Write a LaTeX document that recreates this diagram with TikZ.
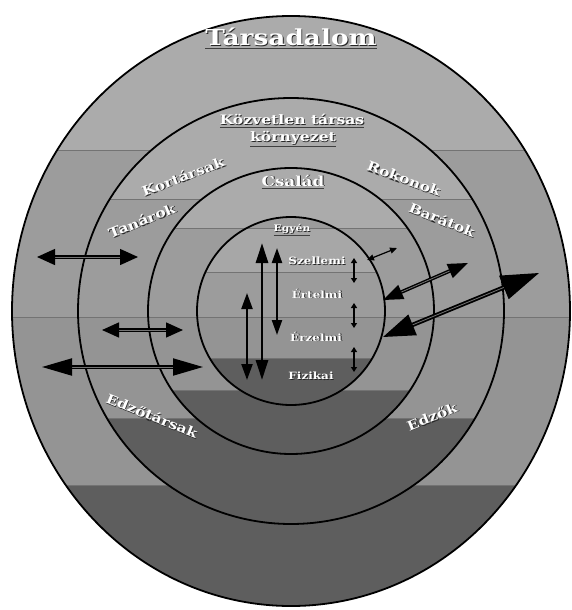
\documentclass[tikz,border=0pt]{standalone}
\usepackage{fontspec}
\setmainfont{DejaVu Serif}
\usepackage{graphicx}
\usetikzlibrary{arrows.meta}

\definecolor{bandlight}{gray}{0.67}
\definecolor{bandmid}{gray}{0.61}
\definecolor{bandlow}{gray}{0.58}
\definecolor{banddark}{gray}{0.37}

% white text with a dark shadow, a little wide
\newcommand{\emb}[1]{\scalebox{1.2}[1]{\makebox[0pt][l]{\kern0.8pt\raisebox{-0.8pt}{\color{black!85}#1}}{\color{white}#1}}}
\newcommand{\ttl}[1]{{\color{black!75}\underline{\emb{#1}}}}

\begin{document}
\begin{tikzpicture}[x=1pt,y=-1pt,
	ring/.style={draw=black, line width=1.8pt},
	band/.style={draw=black!55, line width=0.5pt},
	lbl/.style={inner sep=0pt, font=\bfseries\fontsize{13}{14}\selectfont},
	dimlbl/.style={inner sep=0pt, font=\bfseries\fontsize{10}{11}\selectfont},
	hlink/.style={line width=1.4pt, double=black!55, double distance=0.8pt},
	vlink/.style={line width=2.2pt},
	tick/.style={line width=1.3pt, {Triangle[length=5pt,width=6pt]}-{Triangle[length=5pt,width=6pt]}}]
	\fill[white] (0,0) rectangle (572,610);
	\useasboundingbox (0,0) rectangle (572,610);
	\coordinate (c) at (291,311);

	% Tarsadalom
	\begin{scope}
		\clip (c) ellipse [x radius=279, y radius=295];
		\filldraw[band, fill=bandlight] (0,0) rectangle (572,150);
		\filldraw[band, fill=bandmid] (0,150) rectangle (572,317);
		\filldraw[band, fill=bandlow] (0,317) rectangle (572,485);
		\filldraw[band, fill=banddark] (0,485) rectangle (572,610);
	\end{scope}
	% kozvetlen kornyezet
	\begin{scope}
		\clip (c) circle (213);
		\filldraw[band, fill=bandlight] (0,0) rectangle (572,199);
		\filldraw[band, fill=bandmid] (0,199) rectangle (572,317);
		\filldraw[band, fill=bandlow] (0,317) rectangle (572,418);
		\filldraw[band, fill=banddark] (0,418) rectangle (572,610);
	\end{scope}
	% csalad
	\begin{scope}
		\clip (c) circle (143);
		\filldraw[band, fill=bandlight] (0,0) rectangle (572,228);
		\filldraw[band, fill=bandmid] (0,228) rectangle (572,317);
		\filldraw[band, fill=bandlow] (0,317) rectangle (572,390);
		\filldraw[band, fill=banddark] (0,390) rectangle (572,610);
	\end{scope}
	% egyen
	\begin{scope}
		\clip (c) circle (94);
		\filldraw[band, fill=bandmid] (0,0) rectangle (572,228);
		\filldraw[band, fill=bandlight!105] (0,228) rectangle (572,272);
		\filldraw[band, fill=bandmid] (0,272) rectangle (572,317);
		\filldraw[band, fill=bandlow] (0,317) rectangle (572,358);
		\filldraw[band, fill=banddark] (0,358) rectangle (572,610);
	\end{scope}
	\draw[ring] (c) ellipse [x radius=279, y radius=295];
	\draw[ring] (c) circle (213);
	\draw[ring] (c) circle (143);
	\draw[ring] (c) circle (94);

	\node[lbl, font=\bfseries\fontsize{22}{24}\selectfont] (tars) at (291,38) {\ttl{Társadalom}};
	\node[lbl] (kozv) at (292,121) {\ttl{Közvetlen társas}};
	\node[lbl] (korny) at (293,139) {\ttl{környezet}};
	\node[lbl, font=\bfseries\fontsize{14}{15}\selectfont] (csal) at (293,182) {\ttl{Család}};
	\node[dimlbl, font=\bfseries\fontsize{9}{10}\selectfont] (egyen) at (292,230) {\ttl{Egyén}};

	\node[lbl, rotate=21] (kort) at (183,177) {\emb{Kortársak}};
	\node[lbl, rotate=-20] (rok) at (404,179) {\emb{Rokonok}};
	\node[lbl, rotate=22] (tan) at (142,221) {\emb{Tanárok}};
	\node[lbl, rotate=-22] (bar) at (442,220) {\emb{Barátok}};
	\node[lbl, rotate=-22] (edzt) at (152,416) {\emb{Edzőtársak}};
	\node[lbl, rotate=22] (edzk) at (432,417) {\emb{Edzők}};

	\node[dimlbl] (szel) at (317,261) {\emb{Szellemi}};
	\node[dimlbl] (ert) at (317,294) {\emb{Értelmi}};
	\node[dimlbl] (erz) at (316,337) {\emb{Érzelmi}};
	\node[dimlbl] (fiz) at (311,376) {\emb{Fizikai}};

	% arrow ends
	\foreach \i/\xa/\ya/\xb/\yb in {1/37/257/138/257, 2/102/330/183/330, 3/42/367/203/367,
		4/247/293/247/380, 5/262/243/262/380, 6/277/248/277/335,
		7/354/258/354/283, 8/354/303/354/328, 9/354/347/354/372,
		10/367/260/397/248, 11/383/300/468/263, 12/383/337/539/273}{
		\coordinate (a\i) at (\xa,\ya);
		\coordinate (b\i) at (\xb,\yb);
	}
	\draw[hlink, {Triangle[length=18pt,width=16pt]}-{Triangle[length=18pt,width=16pt]}] (a1) -- (b1);
	\draw[hlink, {Triangle[length=17pt,width=15pt]}-{Triangle[length=17pt,width=15pt]}] (a2) -- (b2);
	\draw[hlink, line width=2pt, {Triangle[length=30pt,width=17pt]}-{Triangle[length=30pt,width=17pt]}] (a3) -- (b3);
	\draw[vlink, {Triangle[length=16pt,width=11pt]}-{Triangle[length=16pt,width=11pt]}] (a4) -- (b4);
	\draw[vlink, line width=2.8pt, {Triangle[length=20pt,width=12pt]}-{Triangle[length=20pt,width=12pt]}] (a5) -- (b5);
	\draw[vlink, {Triangle[length=15pt,width=10pt]}-{Triangle[length=15pt,width=10pt]}] (a6) -- (b6);
	\draw[tick] (a7) -- (b7);
	\draw[tick] (a8) -- (b8);
	\draw[tick] (a9) -- (b9);
	\draw[line width=1.2pt, {Triangle[length=7pt,width=6pt]}-{Triangle[length=7pt,width=6pt]}] (a10) -- (b10);
	\draw[hlink, {Triangle[length=20pt,width=15pt]}-{Triangle[length=20pt,width=15pt]}] (a11) -- (b11);
	\draw[hlink, line width=1.8pt, {Triangle[length=32pt,width=22pt]}-{Triangle[length=38pt,width=25pt]}] (a12) -- (b12);
\end{tikzpicture}
\end{document}
